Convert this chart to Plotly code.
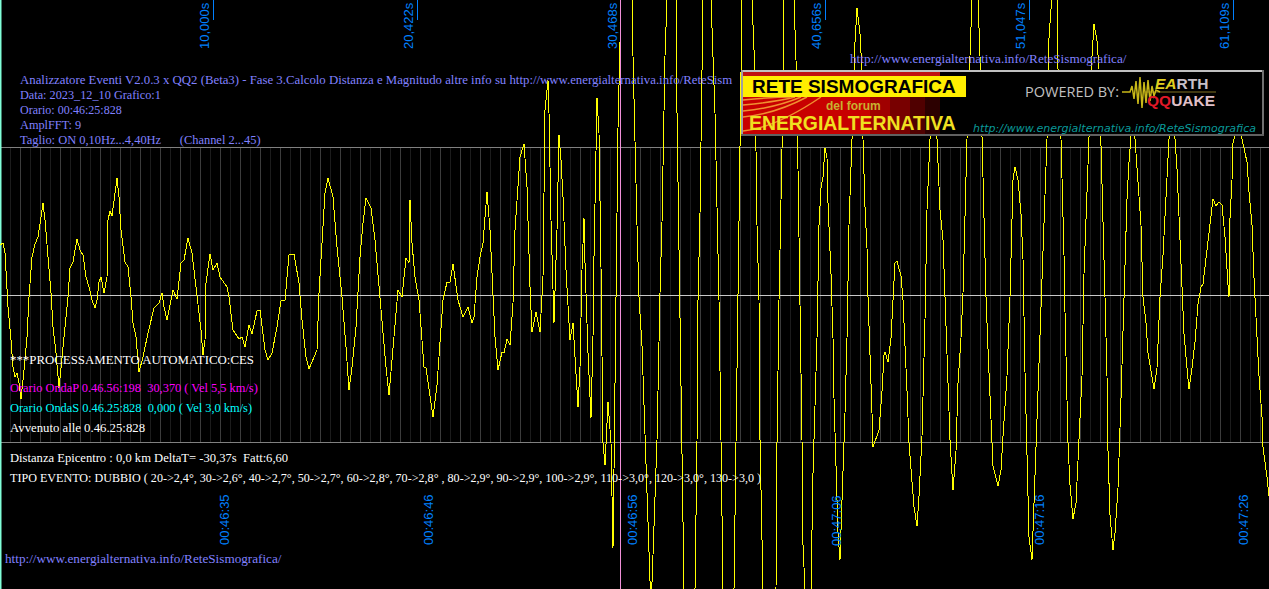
import plotly.graph_objects as go

W, H = 1269, 589

# Waveform: sample position and amplitude
sample_x = [
 0,3,5,7,8,11,13,15,17,19,21,24,27,29,32,35,38,41,43,45,48,51,53,56,59,61,64,68,70,73,77,80,83,86,89,92,95,97,99,101,104,107,108,110,112,115,117,119,121,125,128,131,133,136,139,143,148,154,159,162,164,167,170,173,177,179,181,184,188,192,195,198,201,203,
 205,206,210,213,217,220,227,229,233,239,242,245,249,252,257,260,265,268,272,277,281,285,289,294,299,302,306,309,313,317,319,323,325,328,333,337,342,346,349,352,356,360,363,366,371,375,379,383,386,389,391,395,398,402,404,406,409,410,412,415,419,422,424,426,433,437,441,443,447,450,453,456,458,463,468,472,474,477,480,483,487,490,493,495,498,502,504,507,510,513,515,520,524,527,530,532,536,540,543,545,548,549,551,554,557,559,561,563,566,568,570,573,576,578,580,582,584,585,588,591,593,594,597,599,601,603,605,608,611,613,614,617,618,621,626,632,633,637,639,642,
 645,647,649,651,653,655,657,660,662,665,667,672,676,677,679,681,683,684,689,695,697,698,700,703,707,711,715,717,719,721,723,729,734,736,738,740,742,747,752,755,757,759,760,763,769,776,777,779,782,784,789,794,796,798,800,802,803,805,807,811,813,815,817,819,821,823,825,827,828,831,833,834,836,838,840,843,845,847,849,852,853,855,857,860,862,863,865,867,868,870,872,873,877,879,882,884,885,888,891,893,895,897,901,903,905,907,909,912,914,917,919,922,925,927,930,933,937,940,943,945,947,950,953,956,958,961,963,965,967,970,972,975,978,980,982,984,986,988,991,993,998,1001,1003,1007,1010,1012,1013,1015,1018,1021,1023,1025,1027,1029,1032,1036,1040,1043,1045,1047,1049,1051,1053,1057,1058,1061,1063,1064,1065,1067,1068,1070,1073,1076,1079,1082,1084,1087,1089,1092,1094,1097,1099,1101,1103,1105,1107,1108,1110,1113,1115,1118,1121,1123,1125,1127,1129,1131,1133,1135,1138,1141,1143,1146,1148,1152,1154,1157,1160,1163,1165,1167,1169,1172,1175,1177,1180,1182,1184,1187,1189,1192,1195,1198,1201,1203,1206,1209,1212,1213,1216,1219,1222,1225,1228,1229,1230,1232,1233,1238,1242,1245,1247,1249,1252,1254,1257,1259,1262,1263,1267,1269]
amplitude = [
 50,52,42,12,-12,-45,-72,-82,-78,-88,-104,-75,-42,-2,38,51,58,78,92,75,38,2,-32,-58,-93,-72,-42,-2,27,33,56,45,40,18,8,-5,-13,-5,13,18,2,18,75,84,79,105,117,98,65,33,28,-2,-28,-42,-77,-62,-38,-13,-8,2,-12,-25,-8,5,-4,15,32,35,57,42,15,-12,-35,-60,
 -45,12,41,25,32,18,8,-2,-35,-44,-42,-52,-30,-39,-16,-15,-55,-65,-58,-32,-6,-5,40,41,12,-25,-62,-74,-65,-55,2,65,102,117,98,48,-2,-52,-95,-72,-32,38,72,97,87,55,8,-45,-72,-100,-78,-35,5,-2,22,37,32,95,52,18,-5,-42,-72,-73,-122,-90,-38,-5,13,13,31,12,-5,-22,-12,-28,-22,18,38,52,103,65,8,-42,-75,-57,-58,-44,-50,-8,65,138,151,108,8,-37,-17,-37,18,185,215,182,75,-28,65,160,135,98,25,-18,-45,-28,-72,-112,-72,25,77,32,-58,-123,-42,38,197,162,28,-148,-170,-107,-148,-253,-175,126,167,295,375,295,239,70,-2,-51,
 -148,-215,-275,-315,-260,-208,-145,2,73,239,295,365,295,182,32,-81,-231,-294,-345,-294,-148,-5,81,295,355,295,182,85,-5,-145,-294,-330,-294,-148,-5,145,295,355,295,220,70,-5,-145,-294,-335,-294,-148,-5,145,295,355,295,235,126,2,-145,-250,-294,-315,-294,-178,-118,-43,70,107,118,147,137,92,21,-43,-103,-167,-238,-265,-186,-118,-43,70,156,190,253,287,261,224,156,88,47,-2,-54,-118,-152,-139,-135,-96,-60,-57,-67,-43,-2,32,34,19,-5,-47,-96,-148,-186,-212,-231,-201,-141,-24,85,156,195,156,85,55,-2,-62,-145,-195,-156,-88,-43,2,85,156,239,295,310,295,239,156,85,-2,-54,-129,-171,-191,-175,-141,-81,-2,70,115,128,115,81,36,-77,-167,-242,-265,-156,-36,40,92,156,257,295,315,295,226,156,92,40,-17,-96,-148,-190,-224,-208,-148,-81,21,107,156,239,271,254,226,156,85,-2,-81,-156,-220,-255,-238,-193,-103,-36,32,96,133,156,185,156,111,70,-2,-28,-58,-84,-94,-73,-2,40,81,130,156,179,156,126,55,10,-39,-73,-94,-73,-47,-9,8,11,36,62,92,96,89,93,90,58,10,-2,77,115,152,170,156,143,133,103,70,17,-43,-81,-122,-152,-182,-201]

offset_labels = ["10,000s", "20,422s", "30,468s", "40,656s", "51,047s", "61,109s"]
clock_labels = ["00:46:35", "00:46:46", "00:46:56", "00:47:06", "00:47:16", "00:47:26"]
url = "http://www.energialternativa.info/ReteSismografica/"
info_lines = [
    ("Analizzatore Eventi V2.0.3 x QQ2 (Beta3) - Fase 3.Calcolo Distanza e Magnitudo altre info su http://www.energialternativa.info/ReteSism", 80, 12.8),
    ("Data: 2023_12_10 Grafico:1", 95, 12.25),
    ("Orario: 00:46:25:828", 110, 12),
    ("AmplFFT: 9", 125, 12.3),
    ("Taglio: ON 0,10Hz...4,40Hz\u00a0\u00a0\u00a0\u00a0\u00a0\u00a0(Channel 2...45)", 140, 12.45),
]
event_lines = [
    ("***PROCESSAMENTO AUTOMATICO:CES", "#ffffff", 360, 12.85),
    ("Orario OndaP 0.46.56:198\u00a0\u00a030,370 ( Vel 5,5 km/s)", "#ff00ff", 388, 12.4),
    ("Orario OndaS 0.46.25:828\u00a0\u00a00,000 ( Vel 3,0 km/s)", "#00ffff", 408, 12.4),
    ("Avvenuto alle 0.46.25:828", "#ffffff", 428, 12.75),
    ("Distanza Epicentro : 0,0 km DeltaT= -30,37s\u00a0\u00a0Fatt:6,60", "#ffffff", 458, 12.6),
    ("TIPO EVENTO: DUBBIO ( 20->2,4°, 30->2,6°, 40->2,7°, 50->2,7°, 60->2,8°, 70->2,8° , 80->2,9°, 90->2,9°, 100->2,9°, 110->3,0°, 120->3,0°, 130->3,0 )", "#ffffff", 478, 12.1),
]

px = lambda x: x / W
py = lambda y: 1 - y / H
SERIF = "Liberation Serif"
SANS = "Liberation Sans"
BLUE = "#0080ff"

shapes, annots = [], []

def rect(x0, y0, x1, y1, fill, line=None, lw=0, layer="above"):
    shapes.append(dict(type="rect", xref="paper", yref="paper", x0=px(x0), x1=px(x1), y0=py(y0), y1=py(y1),
                       fillcolor=fill, line=dict(color=line or fill, width=lw), layer=layer))

def vline(x, y0, y1, color, width=1, layer="below"):
    shapes.append(dict(type="line", xref="paper", yref="paper", x0=px(x), x1=px(x), y0=py(y0), y1=py(y1),
                       line=dict(color=color, width=width), layer=layer))

def hline(y, color):
    shapes.append(dict(type="line", xref="paper", yref="paper", x0=0, x1=1, y0=py(y), y1=py(y),
                       line=dict(color=color, width=1), layer="below"))

def text(x, y, s, color, size=12, family=SERIF, anchor="left", angle=0):
    annots.append(dict(xref="paper", yref="paper", x=px(x), y=py(y), text=s, showarrow=False,
                       xanchor=anchor, yanchor="middle", textangle=angle, align="left",
                       font=dict(color=color, size=size, family=family), borderpad=0, borderwidth=0))

# dim grid
for gx in range(10, 1270, 10):
    vline(gx + 0.5, 147, 442, "#3c3c3c" if gx % 20 == 0 else "#1c1c1c")
hline(147.5, "#808080")
hline(295.5, "#c8c8c8")
hline(442.5, "#808080")
vline(0.5, 0, 589, "#80ffd8", 2)

for tx in [213, 417, 620, 825, 1029, 1233]:
    vline(tx + 0.5, 0, 20, BLUE)
for tx, s in zip([205, 409, 613, 817, 1021, 1225], offset_labels):
    text(tx, 26, s, BLUE, 13, SANS, "center", -90)
for tx, s in zip([224, 428, 632, 836, 1039, 1243], clock_labels):
    text(tx, 520, s, BLUE, 13, SANS, "center", -90)

for s, line_y, size in info_lines:
    text(20, line_y, s, "#8080ff", size)
text(850, 58, url, "#8080ff", 13.2)
text(5, 558, url, "#8080ff", 13.2)
for s, c, line_y, size in event_lines:
    text(10, line_y, s, c, size)

# banner
rect(741, 70, 1264, 136, "#000000")
rect(741, 70, 1264, 72, "#c0c0c0")
rect(741, 70, 743, 136, "#a0a0a0")
rect(1262, 70, 1264, 136, "#707070")
rect(741, 134, 1264, 136, "#606060")
rect(743, 97, 870, 134, "#c80000")
rect(743, 72, 940, 76, "#c01010")
for x0, x1, c in [(870, 890, "#a00000"), (890, 910, "#780000"), (910, 925, "#500000"), (925, 940, "#2c0000")]:
    rect(x0, 97, x1, 134, c)
for yy in [100, 105, 111, 117, 131]:
    shapes.append(dict(type="path", xref="paper", yref="paper", layer="above",
                       path=f"M {px(743)} {py(yy)} Q {px(775)} {py(yy-3)} {px(790+ (yy-100))} {py(97)}",
                       line=dict(color="#f09030", width=1.5)))
rect(743, 76, 966, 97, "#ffee00")
text(853.5, 87, "<b>RETE SISMOGRAFICA</b>", "#000000", 19, SANS, "center")
text(853, 106, "<b>del forum</b>", "#c8b030", 12, SANS, "center")
text(852.5, 123, "<b>ENERGIALTERNATIVA</b>", "#f0e020", 19.4, SANS, "center")
text(1072, 91, "POWERED BY:", "#c0c0c0", 14.5, "Open Sans", "center")
text(1114.5, 129, "<i>http://www.energialternativa.info/ReteSismografica</i>", "#0a9a9a", 11, "DejaVu Sans", "center")
text(1181.5, 83, "<b><i><span style='color:#e0d020'>EA</span></i><span style='color:#c8c0c8'>RTH</span></b>", "#c8c0c8", 15.5, SANS, "center")
text(1181, 101, "<b><span style='color:#e01828'>QQ</span><span style='color:#e0c0c8'>UAKE</span></b>", "#e0c0c8", 15.5, SANS, "center")
shapes.append(dict(type="line", xref="paper", yref="paper", x0=px(1145), x1=px(1216), y0=py(92), y1=py(92),
                   line=dict(color="#807020", width=1)))
quake = [(1122, 92), (1130, 92), (1132, 86), (1134, 99), (1136, 81), (1138, 104), (1140, 77), (1142, 108), (1144, 82),
         (1146, 103), (1148, 80), (1150, 101), (1152, 86), (1154, 96), (1156, 90), (1160, 92)]
shapes.append(dict(type="path", xref="paper", yref="paper", layer="above",
                   path="M " + " L ".join(f"{px(a)} {py(b)}" for a, b in quake),
                   line=dict(color="#c8b818", width=1.5)))

fig = go.Figure()
fig.add_trace(go.Scatter(x=sample_x, y=amplitude, mode="lines", hoverinfo="skip",
                         line=dict(color="#ffff00", width=1)))
fig.add_trace(go.Scatter(x=[620.5, 620.5], y=[-294, 295], mode="lines", hoverinfo="skip",
                         line=dict(color="#f090d8", width=1)))
fig.update_layout(
    width=W, height=H, margin=dict(l=0, r=0, t=0, b=0), showlegend=False,
    paper_bgcolor="#000000", plot_bgcolor="#000000",
    xaxis=dict(range=[0, W], visible=False, fixedrange=True),
    yaxis=dict(range=[-294, 295], visible=False, fixedrange=True),
    shapes=shapes, annotations=annots,
)
fig.write_html("out.html", config=dict(displayModeBar=False),
               post_script="document.body.style.margin='0';document.body.style.background='#000';document.documentElement.style.overflow='hidden';"
                           "document.querySelectorAll('.scatterlayer path').forEach(function(p){p.style.shapeRendering='crispEdges';});")
